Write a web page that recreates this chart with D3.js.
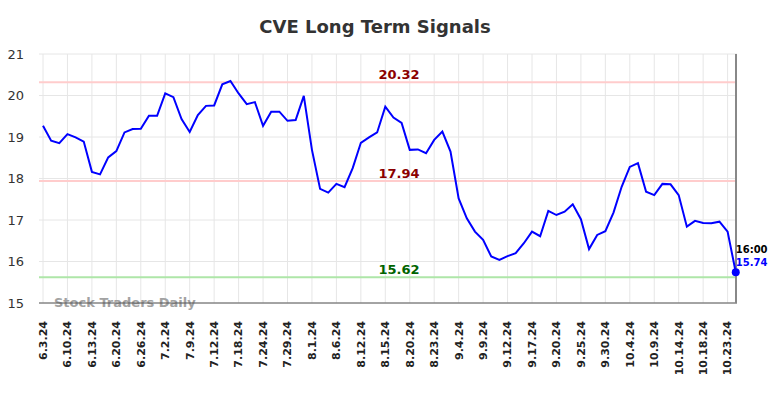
<!DOCTYPE html>
<html>
<head>
<meta charset="utf-8">
<script src="https://cdn.jsdelivr.net/npm/d3@7"></script>
<style>
  body { margin: 0; background: #fff; }
  svg { display: block; font-family: "DejaVu Sans", sans-serif; }
</style>
</head>
<body>
<div id="chart"></div>
<script>
// CVE closing prices, one per trading day
const prices = [
  19.27, 18.91, 18.85, 19.07, 18.99, 18.89, 18.16, 18.10, 18.51, 18.66,
  19.11, 19.19, 19.20, 19.51, 19.51, 20.05, 19.96, 19.43, 19.12, 19.53,
  19.75, 19.76, 20.27, 20.35, 20.05, 19.79, 19.84, 19.27, 19.61, 19.61,
  19.39, 19.41, 19.99, 18.69, 17.75, 17.66, 17.87, 17.79, 18.25, 18.86,
  18.99, 19.11, 19.73, 19.47, 19.34, 18.69, 18.70, 18.61, 18.93, 19.13,
  18.65, 17.52, 17.04, 16.72, 16.52, 16.12, 16.04, 16.13, 16.20, 16.44,
  16.72, 16.61, 17.22, 17.12, 17.20, 17.38, 17.02, 16.30, 16.64, 16.73,
  17.18, 17.80, 18.28, 18.37, 17.68, 17.60, 17.87, 17.86, 17.60, 16.84,
  16.98, 16.93, 16.92, 16.96, 16.72, 15.74
];

// tick labels, one every third trading day
const dateLabels = [
  "6.3.24", "6.10.24", "6.13.24", "6.20.24", "6.26.24", "7.2.24", "7.9.24",
  "7.12.24", "7.18.24", "7.24.24", "7.29.24", "8.1.24", "8.6.24", "8.12.24",
  "8.15.24", "8.20.24", "8.23.24", "9.4.24", "9.9.24", "9.12.24", "9.17.24",
  "9.20.24", "9.25.24", "9.30.24", "10.4.24", "10.9.24", "10.14.24",
  "10.18.24", "10.23.24"
];
const labelStep = 3;

// signal levels
const signalLevels = [20.32, 17.94, 15.62];
const signalKinds = ["resistance", "resistance", "support"];

const yTicks = [15, 16, 17, 18, 19, 20, 21];
const lastTime = "16:00";

const width = 784, height = 398;

const svg = d3.select("#chart").append("svg")
    .attr("width", width)
    .attr("height", height);

const x = d3.scaleLinear()
    .domain([0, prices.length - 1])
    .range([43, 735.75]);

const y = d3.scaleLinear()
    .domain([15, 21])
    .range([303, 54]);

const tickIdx = dateLabels.map((d, i) => i * labelStep);

// grid
svg.append("g")
  .selectAll("line")
  .data(yTicks)
  .join("line")
    .attr("x1", 39).attr("x2", 737)
    .attr("y1", d => y(d)).attr("y2", d => y(d))
    .attr("stroke", "#e6e6e6");

svg.append("g")
  .selectAll("line")
  .data(tickIdx)
  .join("line")
    .attr("x1", d => x(d)).attr("x2", d => x(d))
    .attr("y1", 54).attr("y2", 303)
    .attr("stroke", "#e6e6e6");

// y labels
svg.append("g")
  .selectAll("text")
  .data(yTicks)
  .join("text")
    .attr("x", 24)
    .attr("y", d => y(d))
    .attr("dy", "0.35em")
    .attr("text-anchor", "end")
    .attr("font-size", 13)
    .attr("fill", "#333")
    .text(d => d);

// x labels
svg.append("g")
  .selectAll("text")
  .data(tickIdx)
  .join("text")
    .attr("transform", d => `translate(${x(d)},321) rotate(-90)`)
    .attr("dy", "0.35em")
    .attr("text-anchor", "end")
    .attr("font-size", 11)
    .attr("font-weight", "bold")
    .attr("fill", "#222")
    .text((d, i) => dateLabels[i]);

// signal lines
const lineColor = { resistance: "#ffcccc", support: "#aee6a8" };
const textColor = { resistance: "#8b0000", support: "#006400" };

svg.append("g")
  .selectAll("line")
  .data(signalLevels)
  .join("line")
    .attr("x1", 39).attr("x2", 737)
    .attr("y1", d => y(d)).attr("y2", d => y(d))
    .attr("stroke", (d, i) => lineColor[signalKinds[i]])
    .attr("stroke-width", 2);

svg.append("g")
  .selectAll("text")
  .data(signalLevels)
  .join("text")
    .attr("x", 399)
    .attr("y", d => y(d) - 3)
    .attr("text-anchor", "middle")
    .attr("font-size", 13)
    .attr("font-weight", "bold")
    .attr("fill", (d, i) => textColor[signalKinds[i]])
    .text(d => d.toFixed(2));

// watermark
svg.append("text")
    .attr("x", 54).attr("y", 307)
    .attr("font-size", 13)
    .attr("font-weight", "bold")
    .attr("fill", "#999")
    .attr("opacity", 0.9)
    .text("Stock Traders Daily");

// axes frame
svg.append("line")
    .attr("x1", 39).attr("x2", 737)
    .attr("y1", 303).attr("y2", 303)
    .attr("stroke", "#555");
svg.append("line")
    .attr("x1", 736).attr("x2", 736)
    .attr("y1", 54).attr("y2", 303)
    .attr("stroke", "#888")
    .attr("stroke-width", 2);

// price line
const line = d3.line()
    .x((d, i) => x(i))
    .y(d => y(d));

svg.append("path")
    .datum(prices)
    .attr("d", line)
    .attr("fill", "none")
    .attr("stroke", "#0000ff")
    .attr("stroke-width", 2);

const last = prices.length - 1;
svg.append("circle")
    .attr("cx", x(last)).attr("cy", y(prices[last]))
    .attr("r", 4)
    .attr("fill", "#0000ff");

svg.append("text")
    .attr("x", x(last)).attr("y", 253)
    .attr("font-size", 10)
    .attr("font-weight", "bold")
    .attr("fill", "#000")
    .text(lastTime);
svg.append("text")
    .attr("x", x(last)).attr("y", 266)
    .attr("font-size", 10)
    .attr("font-weight", "bold")
    .attr("fill", "#0000ff")
    .text(prices[last].toFixed(2));

// title
svg.append("text")
    .attr("x", 375).attr("y", 33)
    .attr("text-anchor", "middle")
    .attr("font-size", 18)
    .attr("font-weight", "bold")
    .attr("fill", "#333")
    .text("CVE Long Term Signals");
</script>
</body>
</html>
